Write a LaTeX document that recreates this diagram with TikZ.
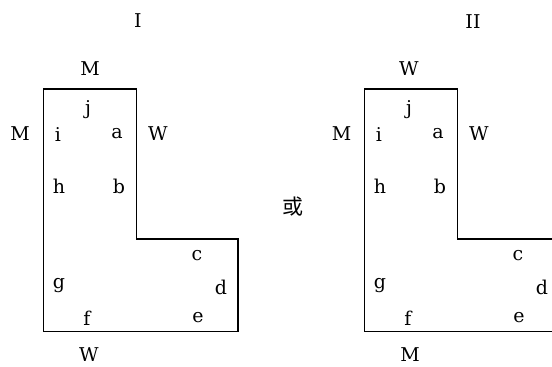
\documentclass[tikz,border=0pt]{standalone}
\usepackage{fontspec}
\newfontfamily\cjk{Noto Sans CJK SC}
\newfontfamily\lblfont{DejaVu Serif}
\begin{document}
\begin{tikzpicture}[x=1pt,y=-1pt,
  lbl/.style={inner sep=0pt,font=\lblfont\fontsize{19}{19}\selectfont},
  outline/.style={draw=black,line width=1.5pt,line join=miter}]
\useasboundingbox[fill=white] (0,0) rectangle (552,367);
% shape I
\coordinate (A1) at (43.5,89);
\coordinate (A2) at (136.5,89);
\coordinate (A3) at (136.5,239);
\coordinate (A4) at (238,239);
\coordinate (A5) at (238,331.5);
\coordinate (A6) at (43.5,331.5);
\draw[outline] (A1) -- (A2) -- (A3) -- (A4) -- (A5) -- (A6) -- cycle;
\node[lbl] (t1) at (138,21) {I};
\node[lbl] (m1) at (90,69) {M};
\node[lbl] (ml1) at (20,134) {M};
\node[lbl] (j1) at (88,110) {j};
\node[lbl] (i1) at (58,135) {i};
\node[lbl] (a1) at (117,134) {a};
\node[lbl] (w1) at (158,134) {W};
\node[lbl] (h1) at (59,186) {h};
\node[lbl] (b1) at (119,186) {b};
\node[lbl] (c1) at (197,256) {c};
\node[lbl] (g1) at (59,286) {g};
\node[lbl] (d1) at (221,287) {d};
\node[lbl] (f1) at (87,318) {f};
\node[lbl] (e1) at (198,318) {e};
\node[lbl,anchor=base,text depth=0pt] (wb1) at (89,361.5) {W};
% or
\node[inner sep=0pt,font=\cjk\fontsize{21}{21}\selectfont] (or) at (292.7,207) {或};
% shape II
\coordinate (B1) at (364.5,89);
\coordinate (B2) at (457.5,89);
\coordinate (B3) at (457.5,239);
\coordinate (B4) at (559,239);
\coordinate (B5) at (559,331.5);
\coordinate (B6) at (364.5,331.5);
\draw[outline] (B1) -- (B2) -- (B3) -- (B4) -- (B5) -- (B6) -- cycle;
\node[lbl] (t2) at (473,22) {II};
\node[lbl] (w2) at (409,69) {W};
\node[lbl] (ml2) at (341.5,134) {M};
\node[lbl] (j2) at (409,110) {j};
\node[lbl] (i2) at (379,135) {i};
\node[lbl] (a2) at (438,134) {a};
\node[lbl] (w2r) at (479,134) {W};
\node[lbl] (h2) at (380,186) {h};
\node[lbl] (b2) at (440,186) {b};
\node[lbl] (c2) at (518,256) {c};
\node[lbl] (g2) at (380,286) {g};
\node[lbl] (d2) at (542,287) {d};
\node[lbl] (f2) at (408,318) {f};
\node[lbl] (e2) at (519,318) {e};
\node[lbl,anchor=base,text depth=0pt] (mb2) at (410,361.5) {M};
\end{tikzpicture}
\end{document}
